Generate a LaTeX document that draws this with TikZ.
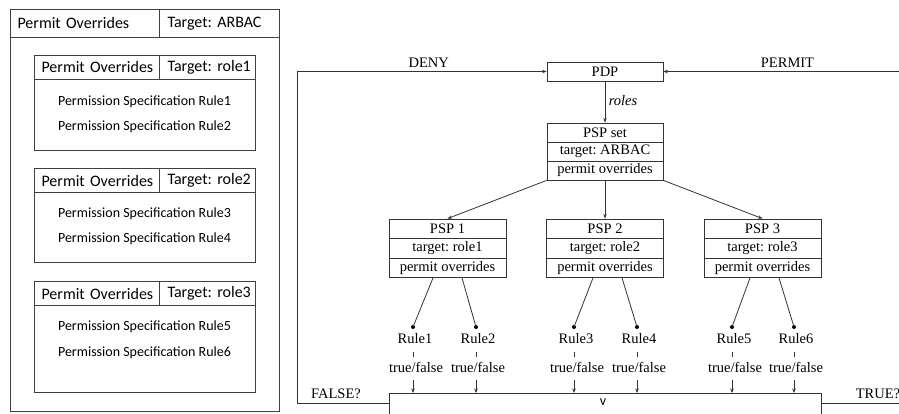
\documentclass[tikz,border=0pt]{standalone}
\usepackage{fontspec}
\setmainfont{Liberation Serif}
\newfontfamily\calfont{Carlito}
\usetikzlibrary{arrows.meta,calc}
\frenchspacing
\begin{document}
\frenchspacing
\begin{tikzpicture}[x=1pt,y=-1pt,
  ln/.style={draw=black!80, line width=0.8pt},
  arr/.style={ln, -{Stealth[length=4.5pt,width=3.5pt]}},
  cell/.style={ln, minimum width=117pt, minimum height=19.5pt, inner sep=0pt, font=\fontsize{14.5}{16}\selectfont},
  txt/.style={inner sep=0pt, font=\fontsize{14.5}{16}\selectfont},
  dotn/.style={circle, fill=black, inner sep=0pt, minimum size=4pt},
  lbox/.style={draw=black!75, line width=1pt},
  hcell/.style={lbox, inner ysep=0pt, align=left, anchor=north west, font=\calfont\fontsize{16}{18}\selectfont},
  body/.style={inner sep=0pt, font=\calfont\fontsize{14}{16}\selectfont}
]
\useasboundingbox (0,0) rectangle (899,413);

% ---------- left panel ----------
\draw[lbox] (10,9) rectangle (279,411);
\node[hcell, minimum height=28pt, inner xsep=7pt, text width=135pt] (oh1) at (10,9) {\mbox{Permit Overrides}};
\node[hcell, minimum height=28pt, inner xsep=8pt, text width=104pt] (oh2) at (159,9) {\mbox{Target: ARBAC}};

\foreach \i/\top/\bot/\ya/\yb/\ra/\rb in {1/55/150/102/127/1/2, 2/168/262/214/239/3/4, 3/281/392/327/353/5/6} {
  \draw[lbox] (34,\top) rectangle (255,\bot);
  \node[hcell, minimum height=24pt, inner xsep=7pt, text width=111pt] (ih\i a) at (34,\top) {\mbox{Permit Overrides}};
  \node[hcell, minimum height=24pt, inner xsep=8pt, text width=80pt] (ih\i b) at (159,\top) {\mbox{Target: role\i}};
  \node[body] (ps\ra) at (144.5,\ya) {Permission Specification Rule\ra};
  \node[body] (ps\rb) at (144.5,\yb) {Permission Specification Rule\rb};
}

% ---------- right diagram ----------
\node[cell, minimum width=116pt, minimum height=19pt] (pdp) at (605,71.5) {PDP};
\node[cell, minimum width=116pt, minimum height=19pt] (s1) at (605,132.5) {PSP set};
\node[cell, minimum width=116pt, minimum height=19pt] (s2) at (605,151.5) {target: ARBAC};
\node[cell, minimum width=116pt, minimum height=19pt] (s3) at (605,170.5) {permit overrides};
\draw[arr] (pdp) -- (s1);
\node[txt, font=\fontsize{14.5}{16}\selectfont\itshape] (roles) at (623,101) {roles};

\foreach \p/\cx/\n in {p1/447.5/1, p2/605/2, p3/762.5/3} {
  \node[cell] (\p a) at (\cx,228.75) {PSP \n};
  \node[cell] (\p b) at (\cx,248.25) {target: role\n};
  \node[cell] (\p c) at (\cx,267.75) {permit overrides};
}
\draw[arr] (s3.south west) -- (p1a.north);
\draw[arr] (s3.south) -- (p2a.north);
\draw[arr] (s3.south east) -- (p3a.north);

% bottom box
\coordinate (vl) at (389,393);
\coordinate (vr) at (821,393);
\draw[ln] ($(vl)+(0,25)$) -- (vl) -- (vr) -- ($(vr)+(0,25)$);
\node[inner sep=0pt, font=\calfont\fontsize{14}{14}\selectfont] (vee) at (603,402) {v};

\foreach \p/\a/\b/\da/\db/\oa/\ob in {p1/1/2/413/476/-14.5/14.5, p2/3/4/574/637/-12/17, p3/5/6/732/794/-12.5/16.5} {
  \node[dotn] (d\a) at (\da,327) {};
  \node[dotn] (d\b) at (\db,327) {};
  \draw[ln] ($(\p c.south)+(\oa,0)$) -- (d\a.center);
  \draw[ln] ($(\p c.south)+(\ob,0)$) -- (d\b.center);
  \node[txt] (r\a) at (\da+2,339) {Rule\a};
  \node[txt] (r\b) at (\db+2,339) {Rule\b};
  \node[txt] (tf\a) at (\da+3,367) {true/false};
  \node[txt] (tf\b) at (\db+2,367) {true/false};
  \draw[ln] (\da,352) -- (\da,357);
  \draw[ln] (\db,352) -- (\db,357);
  \draw[arr] (\da,380) -- (\da,393);
  \draw[arr] (\db,380) -- (\db,393);
}

% feedback lines
\coordinate (fc) at (297,403);
\coordinate (pe) at (899,71.5);
\coordinate (te) at (899,403);
\draw[arr] ($(vl)+(0,10)$) -- (fc) |- (pdp.west);
\draw[arr] (pe) -- (pdp.east);
\draw[ln] ($(vr)+(0,10)$) -- (te);
\node[txt] (deny) at (428.7,63) {DENY};
\node[txt] (permit) at (787.5,63) {PERMIT};
\node[txt] (false) at (336,394) {FALSE?};
\node[txt] (true) at (878,394) {TRUE?};
\end{tikzpicture}
\end{document}
